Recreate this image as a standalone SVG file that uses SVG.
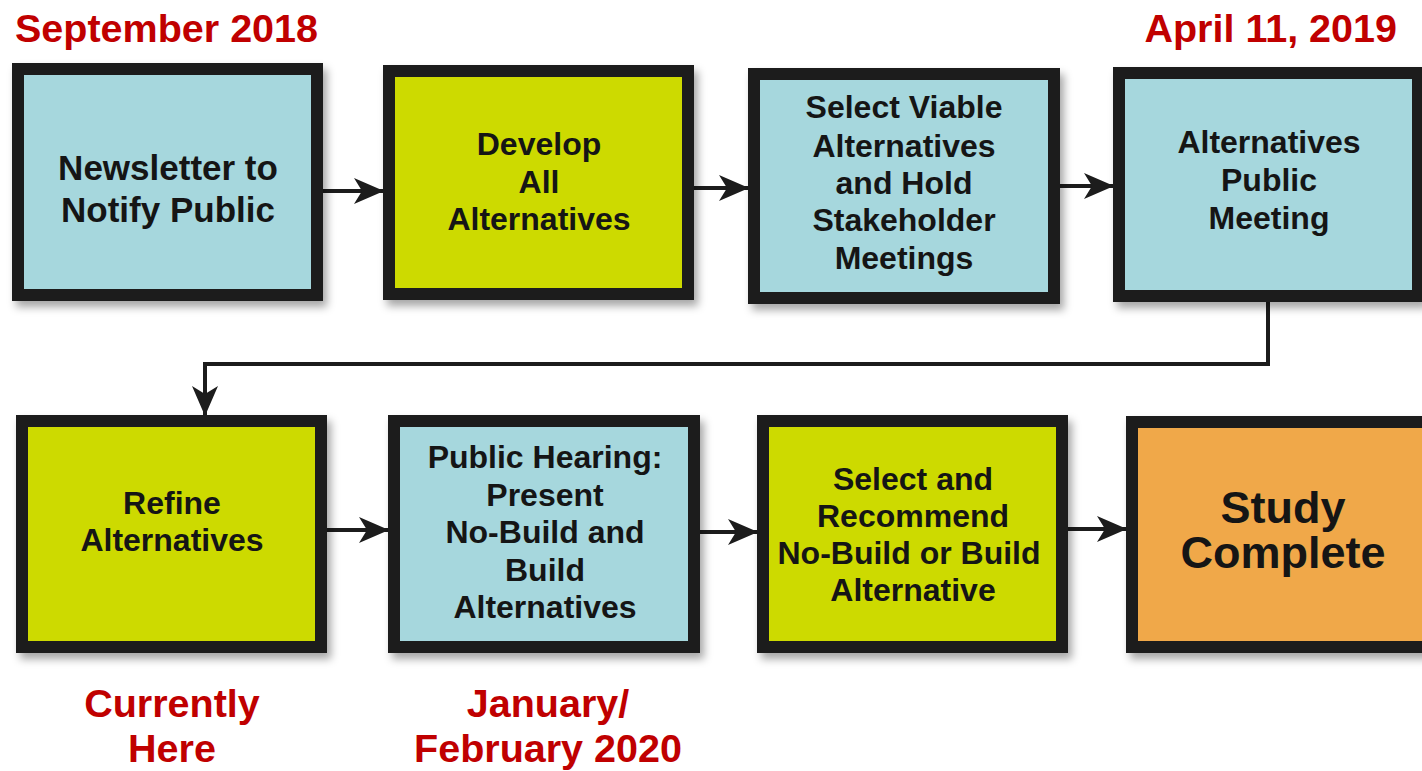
<svg xmlns="http://www.w3.org/2000/svg" width="1422" height="771" viewBox="0 0 1422 771">
  <defs>
    <filter id="sh" x="-10%" y="-10%" width="125%" height="130%">
      <feDropShadow dx="4" dy="6" stdDeviation="4" flood-color="#000" flood-opacity="0.35"/>
    </filter>
    <marker id="ah" viewBox="0 0 30 28" refX="29" refY="14" markerWidth="30" markerHeight="28" markerUnits="userSpaceOnUse" orient="auto">
      <path d="M0,1 L30,14 L0,27 L8,14 Z" fill="#1c1c1c"/>
    </marker>
    <style>
      .box { stroke: #1c1c1c; stroke-width: 12; filter: url(#sh); }
      .blue { fill: #a6d7dd; }
      .yel { fill: #cdda00; }
      .org { fill: #f0a848; }
      .t { font-family: "Liberation Sans", Arial, sans-serif; font-weight: bold; font-size: 32px; fill: #151515; text-anchor: middle; }
      .t1 { font-size: 35px; }
      .tb { font-size: 45px; }
      .red { font-family: "Liberation Sans", Arial, sans-serif; font-weight: bold; font-size: 39.5px; fill: #c00000; }
      .con { fill: none; stroke: #1c1c1c; stroke-width: 4; }
    </style>
  </defs>
  <rect width="1422" height="771" fill="#ffffff"/>

  <g id="connectors">
    <path class="con" d="M323,191 H383" marker-end="url(#ah)"/>
    <path class="con" d="M694,188 H748" marker-end="url(#ah)"/>
    <path class="con" d="M1060,186 H1113" marker-end="url(#ah)"/>
    <path class="con" d="M1268,302 V364 H205 V415" marker-end="url(#ah)"/>
    <path class="con" d="M327,530 H388" marker-end="url(#ah)"/>
    <path class="con" d="M700,532 H757" marker-end="url(#ah)"/>
    <path class="con" d="M1068,529 H1126" marker-end="url(#ah)"/>
  </g>

  <g id="n1">
    <rect class="box blue" x="18" y="69" width="299" height="226"/>
    <text class="t t1" x="168" y="180">Newsletter to</text>
    <text class="t t1" x="168" y="222">Notify Public</text>
  </g>
  <g id="n2">
    <rect class="box yel" x="389" y="71" width="299" height="223"/>
    <text class="t" x="539" y="155">Develop</text>
    <text class="t" x="539" y="193">All</text>
    <text class="t" x="539" y="230">Alternatives</text>
  </g>
  <g id="n3">
    <rect class="box blue" x="754" y="74" width="300" height="224"/>
    <text class="t" x="904" y="118">Select Viable</text>
    <text class="t" x="904" y="157">Alternatives</text>
    <text class="t" x="904" y="194">and Hold</text>
    <text class="t" x="904" y="231">Stakeholder</text>
    <text class="t" x="904" y="269">Meetings</text>
  </g>
  <g id="n4">
    <rect class="box blue" x="1119" y="73" width="299" height="223"/>
    <text class="t" x="1269" y="153">Alternatives</text>
    <text class="t" x="1269" y="191">Public</text>
    <text class="t" x="1269" y="229">Meeting</text>
  </g>
  <g id="n5">
    <rect class="box yel" x="22" y="421" width="299" height="226"/>
    <text class="t" x="172" y="514">Refine</text>
    <text class="t" x="172" y="551">Alternatives</text>
  </g>
  <g id="n6">
    <rect class="box blue" x="394" y="421" width="300" height="226"/>
    <text class="t" x="545" y="468">Public Hearing:</text>
    <text class="t" x="545" y="506">Present</text>
    <text class="t" x="545" y="543">No-Build and</text>
    <text class="t" x="545" y="581">Build</text>
    <text class="t" x="545" y="618">Alternatives</text>
  </g>
  <g id="n7">
    <rect class="box yel" x="763" y="421" width="299" height="226"/>
    <text class="t" x="913" y="490">Select and</text>
    <text class="t" x="913" y="527">Recommend</text>
    <text class="t" x="909" y="564">No-Build or Build</text>
    <text class="t" x="913" y="601">Alternative</text>
  </g>
  <g id="n8">
    <rect class="box org" x="1132" y="422" width="310" height="225"/>
    <text class="t tb" x="1283" y="523">Study</text>
    <text class="t tb" x="1283" y="568">Complete</text>
  </g>

  <g id="labels">
    <text class="red" x="15" y="42">September 2018</text>
    <text class="red" x="1397" y="42" text-anchor="end">April 11, 2019</text>
    <text class="red" x="172" y="717" text-anchor="middle">Currently</text>
    <text class="red" x="172" y="762" text-anchor="middle">Here</text>
    <text class="red" x="548" y="717" text-anchor="middle">January/</text>
    <text class="red" x="548" y="762" text-anchor="middle">February 2020</text>
  </g>
</svg>
